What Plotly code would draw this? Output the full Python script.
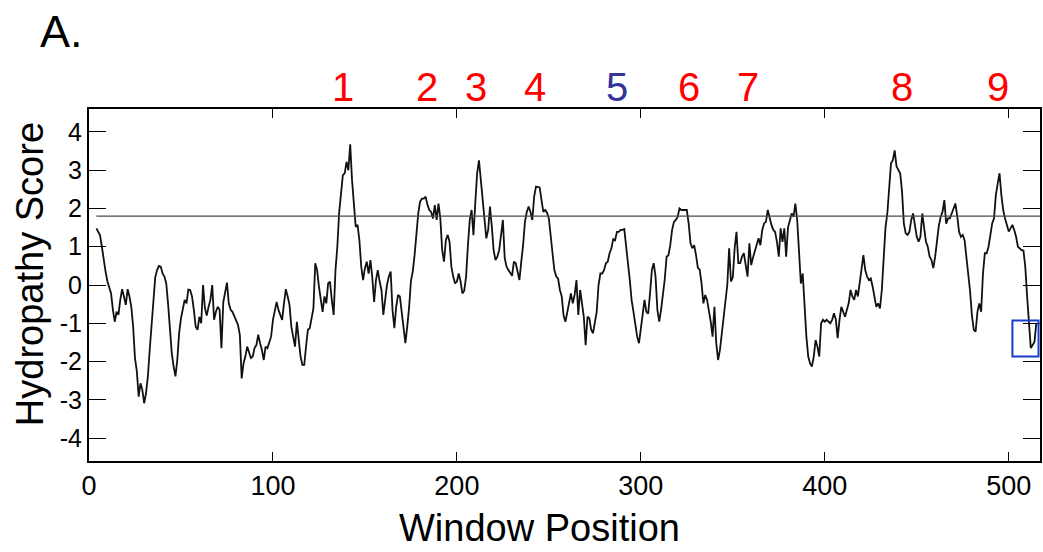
import plotly.graph_objects as go

# Kyte-Doolittle style hydropathy profile, one score per window position
FIRST_WINDOW = 4
scores_004_103 = [
    1.48, 1.40, 1.30, 1.00, 0.61, 0.35, 0.10, -0.05, -0.22, -0.65,
    -0.96, -0.70, -0.78, -0.39, -0.11, -0.30, -0.52, -0.11, -0.30, -0.57,
    -1.09, -1.91, -2.25, -2.92, -2.57, -2.74, -3.09, -2.83, -2.39, -1.70,
    -1.00, -0.30, 0.20, 0.39, 0.50, 0.48, 0.30, 0.22, 0.04, -0.50,
    -1.20, -1.78, -2.13, -2.39, -1.96, -1.26, -0.87, -0.57, -0.39, -0.48,
    -0.12, -0.13, -0.30, -0.65, -1.09, -1.17, -0.83, -1.00, 0.00, -0.60,
    -0.80, -0.57, -0.39, 0.00, -0.91, -0.70, -0.57, -0.65, -1.65, -0.45,
    -0.13, 0.06, -0.48, -0.65, -0.70, -0.83, -0.91, -1.04, -1.30, -2.44,
    -2.05, -1.87, -1.61, -1.78, -1.91, -1.87, -1.65, -1.57, -1.30, -1.52,
    -1.70, -1.96, -1.61, -1.65, -1.48, -1.35, -0.91, -0.70, -0.44, -0.65,
]
scores_104_205 = [
    -0.78, -0.91, -0.48, -0.11, -0.30, -0.52, -1.09, -1.39, -1.61, -0.96,
    -1.44, -1.87, -2.09, -2.09, -1.60, -1.17, -1.13, -0.87, -0.61, 0.57,
    0.39, -0.04, -0.35, -0.70, -0.30, -0.48, 0.04, 0.09, -0.39, -0.78,
    0.39, 1.00, 1.90, 2.40, 2.87, 2.92, 3.22, 3.00, 3.68, 2.74,
    2.00, 1.52, 1.57, 1.17, 0.48, 0.13, 0.44, 0.61, 0.30, 0.65,
    0.20, -0.44, 0.13, 0.39, 0.09, -0.13, -0.78, -0.39, 0.00, 0.22,
    0.35, -0.65, -1.13, -0.57, -0.26, -0.30, -0.70, -1.09, -1.52, -1.09,
    -0.60, 0.10, 0.35, 0.78, 1.44, 1.87, 2.18, 2.26, 2.26, 2.31,
    2.10, 1.96, 1.91, 1.74, 2.09, 1.70, 2.13, 1.74, 0.91, 0.61,
    1.17, 1.31, 1.13, 0.48, 0.22, 0.04, 0.09, 0.30, 0.09, -0.22,
    -0.15, 0.22,
]
scores_206_307 = [
    1.04, 1.70, 1.96, 1.30, 2.15, 2.92, 3.26, 2.70, 2.22, 1.57,
    1.22, 1.44, 2.05, 1.52, 0.90, 0.65, 0.74, 0.91, 1.26, 1.70,
    0.70, 0.48, 0.39, 0.30, 0.24, 0.61, 0.57, 0.35, 0.13, 0.61,
    1.04, 1.65, 1.91, 2.05, 1.91, 1.70, 2.31, 2.57, 2.55, 2.55,
    2.22, 1.91, 1.96, 1.89, 1.74, 1.35, 0.83, 0.39, 0.22, 0.17,
    -0.13, -0.30, -0.80, -0.96, -0.70, -0.39, -0.22, -0.48, -0.26, 0.13,
    -0.78, -0.13, -0.48, -0.83, -1.57, -0.83, -0.87, -1.17, -1.26, -1.00,
    -0.70, 0.00, 0.30, 0.30, 0.39, 0.57, 0.61, 0.83, 0.96, 1.20,
    1.17, 1.39, 1.39, 1.44, 1.44, 1.46, 1.09, 0.57, 0.13, -0.40,
    -0.70, -1.00, -1.35, -1.52, -1.17, -0.70, -0.39, -0.70, -0.75, -0.22,
    0.39, 0.57,
]
scores_308_404 = [
    0.22, -0.65, -0.96, -0.65, -0.30, 0.15, 0.74, 0.78, 1.04, 1.44,
    1.65, 1.70, 1.78, 2.00, 1.96, 1.96, 1.96, 1.96, 1.61, 1.09,
    0.96, 1.04, 0.78, 0.45, 0.40, 0.04, -0.48, -0.26, -0.39, -0.65,
    -0.96, -1.35, -0.57, -1.52, -1.96, -1.70, -1.26, -0.70, -0.30, 0.00,
    0.96, 0.09, 0.20, 0.96, 1.39, 0.57, 0.57, 0.74, 0.83, 0.57,
    0.22, 1.09, 0.52, 0.72, 0.87, 1.04, 1.22, 1.04, 1.44, 1.61,
    1.65, 1.96, 1.75, 1.57, 1.44, 1.39, 1.13, 0.74, 1.48, 1.13,
    1.48, 0.74, 1.50, 1.70, 1.87, 1.78, 2.13, 1.70, 0.74, 0.04,
    0.30, -0.57, -1.35, -1.87, -2.05, -2.13, -1.87, -1.44, -1.61, -1.87,
    -1.00, -0.91, -0.96, -0.91, -0.96, -1.00, -0.91,
]
scores_405_515 = [
    -0.74, -0.90, -1.39, -0.91, -0.57, -0.70, -0.83, -0.65, -0.48, -0.13,
    -0.30, -0.39, -0.13, -0.30, 0.04, 0.30, 0.78, 0.39, 0.22, 0.13,
    0.17, -0.04, -0.30, -0.57, -0.48, -0.61, -0.13, 0.65, 1.50, 1.87,
    2.52, 3.18, 3.26, 3.52, 3.10, 3.00, 2.92, 2.44, 1.60, 1.35,
    1.31, 1.39, 1.70, 1.87, 1.57, 1.26, 1.13, 1.26, 1.87, 1.48,
    1.13, 1.00, 0.74, 0.65, 0.44, 0.74, 1.17, 1.55, 1.78, 1.91,
    2.22, 1.60, 1.74, 1.74, 1.87, 2.00, 2.13, 1.80, 1.39, 1.26,
    1.31, 1.17, 0.74, 0.22, -0.17, -0.80, -1.17, -1.22, -0.70, -0.48,
    -0.70, 0.30, 0.83, 0.83, 1.00, 1.30, 1.61, 1.74, 2.35, 2.65,
    2.92, 2.35, 1.96, 1.74, 1.55, 1.40, 1.48, 1.57, 1.44, 1.26,
    1.00, 0.96, 0.91, 0.90, 0.48, -0.30, -1.09, -1.65, -1.57, -1.48,
    -1.00,
]

scores = (scores_004_103 + scores_104_205 + scores_206_307
          + scores_308_404 + scores_405_515)
positions = list(range(FIRST_WINDOW, FIRST_WINDOW + len(scores)))

# axis ticks (plain hyphen for negatives)
x_ticks = [0, 100, 200, 300, 400, 500]
y_ticks = [-4, -3, -2, -1, 0, 1, 2, 3, 4]
y_tick_text = ["-4", "-3", "-2", "-1", "0", "1", "2", "3", "4"]

# transmembrane segment numbering above the plot
tm_labels = ["1", "2", "3", "4", "5", "6", "7", "8", "9"]
tm_label_x = [138, 184, 210.5, 242.5, 287, 326, 358.5, 442, 494]
tm_label_colors = ["#ff0000", "#ff0000", "#ff0000", "#ff0000", "#35349a",
                   "#ff0000", "#ff0000", "#ff0000", "#ff0000"]

THRESHOLD = 1.8
# highlighted C-terminal window (x0, x1, y0, y1)
highlight_box = (502, 516.2, -1.87, -0.93)

FONT = "Liberation Sans, Arial, sans-serif"

fig = go.Figure()
fig.add_trace(go.Scatter(
    x=positions, y=scores, mode="lines",
    line=dict(color="#111111", width=1.8),
    hoverinfo="x+y", showlegend=False,
))

fig.add_shape(type="line", xref="x", yref="y",
              x0=positions[0], x1=517, y0=THRESHOLD, y1=THRESHOLD,
              line=dict(color="#4a4a4a", width=1.3))
fig.add_shape(type="rect", xref="x", yref="y",
              x0=highlight_box[0], x1=highlight_box[1],
              y0=highlight_box[2], y1=highlight_box[3],
              line=dict(color="#1a3ccc", width=2))

for lab, lx, col in zip(tm_labels, tm_label_x, tm_label_colors):
    fig.add_annotation(x=lx, xref="x", y=1.0625, yref="paper",
                       text=lab, showarrow=False,
                       font=dict(family=FONT, size=40, color=col),
                       xanchor="center", yanchor="middle")

fig.add_annotation(x=-0.0535, xref="paper", y=1.22, yref="paper",
                   text="A.", showarrow=False,
                   font=dict(family=FONT, size=45, color="black"),
                   xanchor="left", yanchor="middle")
fig.add_annotation(x=0.474, xref="paper", y=-0.19, yref="paper",
                   text="Window Position", showarrow=False,
                   font=dict(family=FONT, size=38, color="black"),
                   xanchor="center", yanchor="middle")
fig.add_annotation(x=-0.062, xref="paper", y=0.531, yref="paper",
                   text="Hydropathy Score", showarrow=False, textangle=-90,
                   font=dict(family=FONT, size=38, color="black"),
                   xanchor="center", yanchor="middle")

fig.update_xaxes(
    range=[0, 517], tickmode="array", tickvals=x_ticks,
    ticks="inside", ticklen=9, tickwidth=1.3, tickcolor="black",
    showline=True, linewidth=2, linecolor="black", mirror="ticks",
    showgrid=False, zeroline=False,
    tickfont=dict(family=FONT, size=27, color="black"),
)
fig.update_yaxes(
    range=[-4.6, 4.6], tickmode="array", tickvals=y_ticks, ticktext=y_tick_text,
    ticks="inside", ticklen=17, tickwidth=1.3, tickcolor="black",
    showline=True, linewidth=2, linecolor="black", mirror="ticks",
    showgrid=False, zeroline=False,
    tickfont=dict(family=FONT, size=25, color="black"),
)

fig.update_layout(
    width=1043, height=552,
    margin=dict(l=89, r=1, t=109, b=91),
    paper_bgcolor="white", plot_bgcolor="white",
    font=dict(family=FONT, color="black"),
)

fig.write_html("out.html")
